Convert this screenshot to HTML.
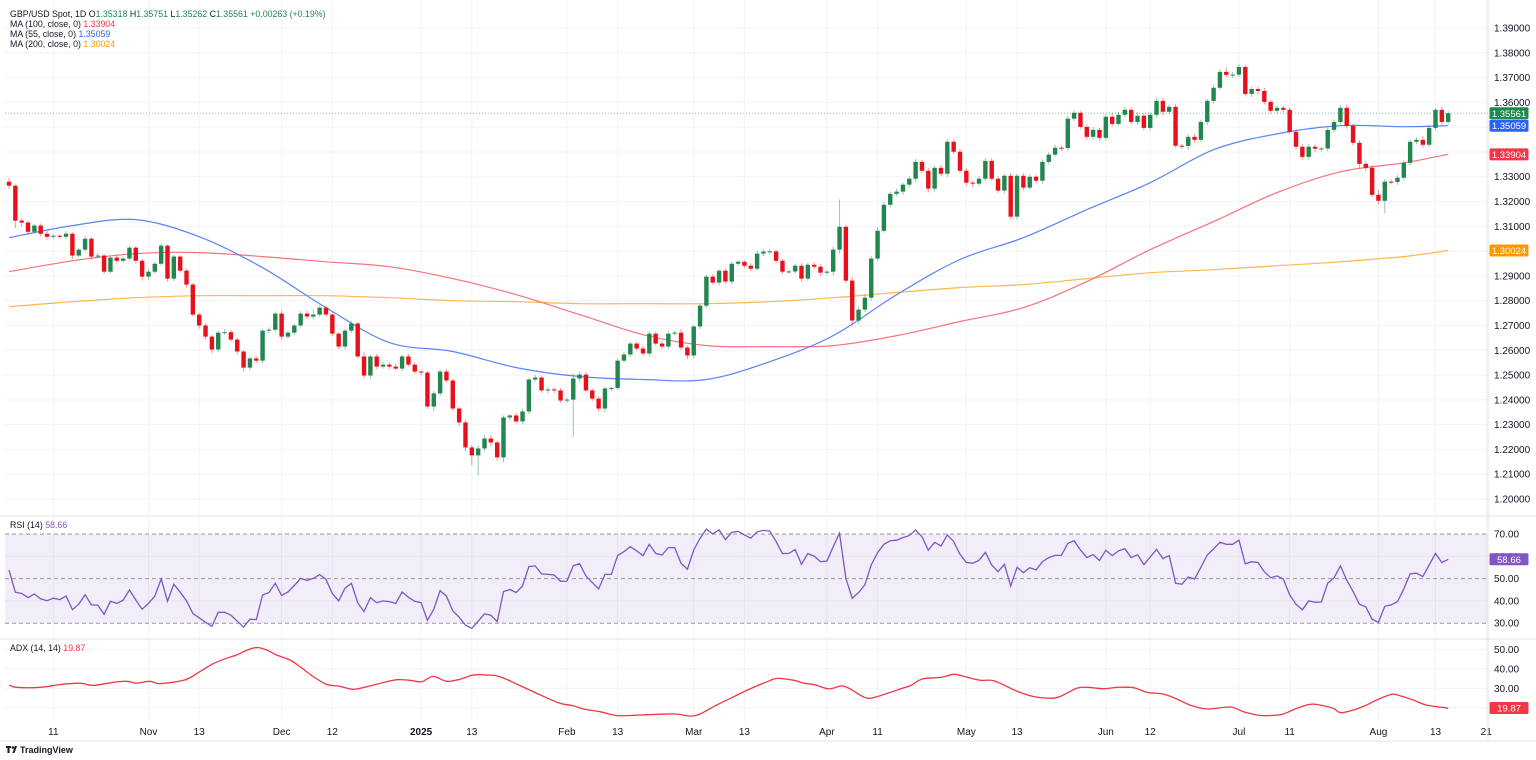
<!DOCTYPE html>
<html><head><meta charset="utf-8"><title>GBP/USD Daily</title>
<style>
html,body{margin:0;padding:0;background:#fff;}
svg{display:block;font-family:"Liberation Sans",sans-serif;}
.ax{font-size:10px;fill:#131722;}
.lg{font-size:8.8px;fill:#131722;}
</style></head>
<body>
<svg id="chart" width="1536" height="760" viewBox="0 0 1536 760" xmlns="http://www.w3.org/2000/svg">
  <rect x="0" y="0" width="1536" height="760" fill="#ffffff"/>
  <g id="grid"></g>
  <g id="rsiPane"></g>
  <g id="adxPane"></g>
  <g id="mas"></g>
  <g id="candles"></g>
  <g id="axes"></g>
  <g id="legend">
    <text class="lg" x="10" y="17">GBP/USD Spot, 1D  O<tspan fill="#22864f">1.35318</tspan>  H<tspan fill="#22864f">1.35751</tspan>  L<tspan fill="#22864f">1.35262</tspan>  C<tspan fill="#22864f">1.35561</tspan>  <tspan fill="#22864f">+0.00263 (+0.19%)</tspan></text>
    <text class="lg" x="10" y="27">MA (100, close, 0)  <tspan fill="#f23645">1.33904</tspan></text>
    <text class="lg" x="10" y="37">MA (55, close, 0)  <tspan fill="#2962ff">1.35059</tspan></text>
    <text class="lg" x="10" y="47">MA (200, close, 0)  <tspan fill="#ff9800">1.30024</tspan></text>
    <text class="lg" x="10" y="528">RSI (14)  <tspan fill="#7e57c2">58.66</tspan></text>
    <text class="lg" x="10" y="651">ADX (14, 14)  <tspan fill="#f23645">19.87</tspan></text>
  </g>
  <g>
    <path d="M6 746 h5 v2 h-1.5 v5 h-2 v-5 h-1.5 z M12.5 753 l2.5 -7 h2 l-2.5 7 z" fill="#131722"/>
    <circle cx="13" cy="747.5" r="1.3" fill="#131722"/>
    <text x="20" y="753" style="font-size:9px;font-weight:bold;fill:#131722">TradingView</text>
  </g>
</svg>
<script>
const closes = [
1.3264,1.3123,1.3115,1.3078,1.3103,1.3070,1.3058,1.3062,1.3058,1.3070,
1.2982,1.3006,1.3050,1.2978,1.2982,1.2917,1.2974,1.2961,1.2970,1.3014,
1.2961,1.2897,1.2917,1.2949,1.3022,1.2889,1.2978,1.2921,1.2865,1.2744,
1.2700,1.2655,1.2603,1.2671,1.2673,1.2643,1.2595,1.2530,1.2567,1.2558,
1.2679,1.2683,1.2748,1.2655,1.2671,1.2700,1.2748,1.2736,1.2744,1.2772,
1.2744,1.2667,1.2615,1.2679,1.2708,1.2575,1.2498,1.2575,1.2534,1.2542,
1.2534,1.2526,1.2575,1.2542,1.2514,1.2510,1.2373,1.2426,1.2514,1.2478,
1.2365,1.2309,1.2208,1.2176,1.2204,1.2244,1.2228,1.2168,1.2329,1.2337,
1.2313,1.2353,1.2482,1.2490,1.2438,1.2442,1.2438,1.2397,1.2401,1.2486,
1.2502,1.2438,1.2405,1.2365,1.2446,1.2448,1.2558,1.2583,1.2627,1.2607,
1.2587,1.2667,1.2627,1.2615,1.2667,1.2671,1.2611,1.2579,1.2696,1.2780,
1.2897,1.2873,1.2921,1.2877,1.2949,1.2957,1.2941,1.2929,1.2990,1.2998,
1.2999,1.2961,1.2917,1.2918,1.2941,1.2889,1.2945,1.2937,1.2913,1.2917,
1.3006,1.3098,1.2881,1.2720,1.2764,1.2812,1.2970,1.3082,1.3187,1.3231,
1.3240,1.3268,1.3292,1.3360,1.3324,1.3252,1.3336,1.3312,1.3441,1.3401,
1.3324,1.3276,1.3272,1.3292,1.3364,1.3292,1.3244,1.3304,1.3139,1.3304,
1.3256,1.3300,1.3284,1.3360,1.3389,1.3417,1.3416,1.3534,1.3558,1.3501,
1.3461,1.3489,1.3457,1.3542,1.3513,1.3550,1.3570,1.3521,1.3546,1.3497,
1.3550,1.3606,1.3562,1.3582,1.3425,1.3424,1.3461,1.3449,1.3521,1.3606,
1.3659,1.3723,1.3711,1.3712,1.3743,1.3634,1.3654,1.3646,1.3602,1.3566,
1.3578,1.3570,1.3481,1.3421,1.3380,1.3421,1.3413,1.3414,1.3489,1.3521,
1.3578,1.3505,1.3437,1.3352,1.3336,1.3227,1.3203,1.3280,1.3279,1.3296,
1.3356,1.3441,1.3449,1.3429,1.3497,1.3570,1.3521,1.35561];
const firstOpen = 1.3280;
const wickUpPips = [
15,5,10,8,6,8,10,6,5,12, 6,8,10,6,12,8,6,10,8,8, 6,8,10,8,8,5,8,6,8,6, 8,8,6,8,12,10,10,8,8,10,
8,10,8,12,8,8,10,12,20,8, 10,8,6,8,10,6,15,8,10,12, 10,12,6,10,8,6,6,10,8,10, 8,6,10,10,12,15,14,8,8,6,
10,12,6,12,8,10,8,10,8,20, 12,10,8,10,8,6,10,10,8,8, 12,10,8,10,10,8,15,8,6,8, 8,10,6,10,10,8,6,10,12,8,
10,6,8,10,8,10,8,10,10,6, 12,110,8,15,12,15,10,15,12,8, 12,10,8,12,8,10,8,12,10,8, 12,10,8,10,12,10,10,8,12,8,
10,12,8,10,10,12,8,12,10,8, 10,12,8,10,15,12,10,10,15,12, 10,15,12,10,12,8,10,12,10,8, 12,10,18,10,12,8,10,10,12,8,
10,10,8,10,10,12,8,8,10,10, 12,12,10,12,10,10,20,12,10,12, 10,10,10,15,12,8,12,10];
const wickDnPips = [
15,30,15,12,8,10,12,8,8,10, 15,8,8,12,8,10,8,12,8,8, 10,15,12,8,8,12,10,8,12,8, 12,10,15,10,8,8,12,15,10,8,
10,8,8,12,8,10,8,10,10,8, 8,10,10,12,10,8,12,15,10,8, 10,8,10,8,8,12,10,20,10,8, 10,15,15,40,80,12,15,12,20,10,
8,12,10,8,10,12,12,10,10,150, 10,8,10,12,15,10,8,8,10,8, 10,12,8,10,10,8,10,15,12,10, 10,8,12,8,10,8,10,10,8,10,
12,8,10,8,10,12,8,10,12,10, 15,15,10,20,15,10,12,10,8,10, 10,12,10,12,10,15,12,10,12,10, 10,12,15,10,10,8,10,12,10,12,
10,8,10,12,10,8,12,10,10,8, 12,10,12,10,10,8,10,10,12,10, 10,10,15,10,8,12,15,12,10,12, 10,8,10,12,10,10,12,15,10,8,
10,12,10,12,10,12,15,12,12,10, 10,12,10,15,12,10,15,50,10,12, 10,10,10,12,10,10,10,10];
const maIdx = [0,10,20,30,40,50,60,70,80,90,100,110,120,130,140,150,160,170,180,190,200,210,220,227];
const ma55 = [1.3054,1.3103,1.3127,1.3058,1.2933,1.2772,1.2631,1.2595,1.2530,1.2494,1.2482,1.2482,1.2554,1.2659,1.2824,1.2966,1.3054,1.3167,1.3276,1.3409,1.3473,1.3506,1.3502,1.35059];
const ma100 = [1.2917,1.2961,1.2990,1.2994,1.2978,1.2957,1.2937,1.2889,1.2824,1.2744,1.2663,1.2619,1.2615,1.2619,1.2659,1.2716,1.2772,1.2877,1.3006,1.3119,1.3236,1.3320,1.3356,1.33904];
const ma200 = [1.2776,1.2796,1.2812,1.2820,1.2820,1.2820,1.2812,1.2800,1.2796,1.2788,1.2788,1.2788,1.2796,1.2812,1.2833,1.2853,1.2865,1.2889,1.2913,1.2925,1.2941,1.2957,1.2978,1.30024];
const rsi = [
53.9,43.9,43.3,41.5,43.1,40.9,40.1,41.2,40.6,42.2, 36.1,38.5,42.8,38.2,38.1,34.0,39.8,38.9,40.3,44.9,
40.4,36.3,38.9,42.2,49.8,39.8,47.5,43.9,40.0,34.3, 32.4,30.4,28.6,34.9,34.9,33.6,30.9,28.2,31.8,31.6,
42.7,43.7,47.9,42.4,44.0,46.9,50.1,49.2,50.1,51.8, 49.7,43.3,40.0,45.7,47.9,39.2,35.2,41.5,39.2,40.0,
39.7,38.9,44.0,41.6,39.8,39.2,31.3,36.3,44.6,42.1, 35.5,32.7,29.1,27.7,30.9,34.2,33.6,30.7,44.2,45.1,
43.7,46.7,55.4,55.7,52.1,51.9,51.6,48.8,48.9,55.8, 56.7,51.2,48.2,45.4,51.9,51.9,60.3,62.1,64.3,62.4,
60.3,65.4,61.3,60.6,63.9,63.9,56.9,54.2,62.8,68.1, 72.2,70.0,71.9,67.5,70.7,71.2,69.6,68.1,71.0,71.6,
71.3,66.6,61.2,61.3,63.0,56.4,61.2,60.1,57.6,57.9, 64.3,70.3,50.1,41.2,43.7,47.2,56.1,61.6,65.4,67.0,
67.2,68.4,69.3,71.8,68.8,62.8,66.3,64.6,69.6,66.6, 60.9,57.2,56.9,58.2,61.8,56.1,53.1,56.4,46.7,55.1,
52.7,54.9,53.9,57.6,59.4,60.4,60.4,65.8,67.0,62.8, 59.4,60.7,58.1,62.7,60.3,62.4,63.4,59.4,60.7,56.3,
59.7,63.1,59.0,60.3,47.9,47.5,50.7,49.8,55.1,60.6, 63.3,66.3,65.4,65.4,67.2,56.6,57.6,57.2,53.1,50.4,
51.2,49.8,42.7,38.5,36.0,40.0,39.4,39.5,47.9,50.4, 55.7,49.4,44.2,38.5,37.3,31.8,30.4,37.6,38.2,39.7,
45.4,52.1,52.4,50.9,56.1,61.3,57.2,58.66];
const adxIdx = [0,1.2,4.9,8.0,11.2,13.3,16.5,18.6,20.1,22.2,23.8,27.8,30.1,32.2,34.3,35.9,37.5,39.1,40.6,42.2,44.3,45.9,48.0,50.1,52.2,54.3,56.4,59.0,61.2,63.2,65.1,66.9,69.0,71.1,73.2,75.3,77.4,
80.6,83.8,86.9,89.0,90.6,93.2,95.9,99.6,102.7,105.3,107.4,109.0,111.6,114.3,116.9,119.6,121.2,123.8,125.4,127.0,129.3,131.2,132.5,135.1,137.0,140.6,142.2,144.1,147.0,149.1,151.2,153.3,155.4,
158.9,161.6,164.2,165.8,168.4,170.0,172.7,174.8,177.4,179.5,182.1,184.2,186.3,188.9,192.6,194.7,197.3,199.4,201.0,203.1,205.2,206.8,208.9,210.0,212.0,214.1,215.7,218.1,219.4,221.5,223.6,227];
const adx = [31.7,30.5,30.5,31.9,32.6,31.5,33.1,33.6,32.6,33.6,32.4,34.4,38.5,42.6,45.4,47.1,49.5,50.9,49.7,47.1,44.5,41.1,36.0,32.0,31.0,29.5,30.8,32.9,34.4,34.1,33.4,36.1,33.6,34.6,36.8,36.8,36.0,
31.4,26.6,22.3,21.1,19.4,18.0,16.0,16.3,16.7,16.8,15.8,16.8,21.4,25.7,29.7,33.4,35.1,34.1,32.6,31.9,29.7,31.2,30.0,25.2,25.8,29.7,31.4,34.8,35.6,37.2,35.6,34.1,33.8,
28.6,25.8,24.9,25.8,30.0,30.5,29.8,30.5,30.3,27.9,27.0,24.5,21.4,19.4,20.4,18.0,16.1,16.1,16.8,19.7,21.8,21.4,19.7,17.5,18.8,21.4,24.0,26.9,26.2,24.0,21.4,19.87];
const priceTicks = [1.20,1.21,1.22,1.23,1.24,1.25,1.26,1.27,1.28,1.29,1.30,1.31,1.32,1.33,1.34,1.35,1.36,1.37,1.38,1.39];
const rsiTicks = [70,60,50,40,30];
const adxTicks = [50,40,30,20];
const dateLabels = ["11","Nov","13","Dec","12","2025","13","Feb","13","Mar","13","Apr","11","May","13","Jun","12","Jul","11","Aug","13","21"];
const dateIdx = [7,22,30,43,51,65,73,88,96,108,116,129,137,151,159,173,180,194,202,216,225,233];

const NS = "http://www.w3.org/2000/svg";
const PLOT_R = 1488;
function xOf(i){ return 9 + i*6.34; }
function yP(p){ return 28 + (1.39 - p)/0.01*24.79; }
function yR(v){ return 534 + (70 - v)*2.23; }
function yA(v){ return 649.3 + (50 - v)*1.95; }
function mk(tag, attrs, parent){
  const e = document.createElementNS(NS, tag);
  for (const k in attrs) e.setAttribute(k, attrs[k]);
  parent.appendChild(e); return e;
}
function smoothPath(pts){
  let d = 'M' + pts[0][0].toFixed(1) + ',' + pts[0][1].toFixed(1);
  for (let i = 0; i < pts.length - 1; i++) {
    const p0 = pts[Math.max(0, i-1)], p1 = pts[i], p2 = pts[i+1], p3 = pts[Math.min(pts.length-1, i+2)];
    const c1x = p1[0] + (p2[0]-p0[0])/6, c1y = p1[1] + (p2[1]-p0[1])/6;
    const c2x = p2[0] - (p3[0]-p1[0])/6, c2y = p2[1] - (p3[1]-p1[1])/6;
    d += ' C' + c1x.toFixed(1) + ',' + c1y.toFixed(1) + ' ' + c2x.toFixed(1) + ',' + c2y.toFixed(1) + ' ' + p2[0].toFixed(1) + ',' + p2[1].toFixed(1);
  }
  return d;
}
const grid = document.getElementById('grid');
const axes = document.getElementById('axes');
const mas = document.getElementById('mas');
const cg = document.getElementById('candles');
const rp = document.getElementById('rsiPane');
const ap = document.getElementById('adxPane');

priceTicks.forEach(p => {
  const l = mk('line', {x1:5, x2:PLOT_R, y1:yP(p), y2:yP(p), stroke:'#f0f3fa', 'stroke-width':1}, grid);
  
  
  const t = mk('text', {x:1494, y:yP(p)+3.5, class:'ax'}, axes);
  t.textContent = p.toFixed(5);
  
  
});
dateLabels.forEach((d, k) => {
  const x = xOf(dateIdx[k]);
  if (x < PLOT_R) {
    const l = mk('line', {x1:x, x2:x, y1:0, y2:722, stroke:'#f0f3fa', 'stroke-width':1}, grid);
    
    
  }
  const t = mk('text', {x:x, y:735, class:'ax', 'text-anchor':'middle'}, axes);
  if (d === '2025') t.setAttribute('font-weight', 'bold');
  t.textContent = d;
  
  
});
const band = mk('rect', {x:5, y:yR(70), width:PLOT_R-5, height:yR(30)-yR(70), fill:'#7e57c2', 'fill-opacity':0.1}, rp);


[60,40].forEach(v => {
  const l = mk('line', {x1:5, x2:PLOT_R, y1:yR(v), y2:yR(v), stroke:'#e6e2f2', 'stroke-width':1}, rp);
  
  
});
[70,50,30].forEach(v => {
  const l = mk('line', {x1:5, x2:PLOT_R, y1:yR(v), y2:yR(v), stroke:'#9598a1', 'stroke-width':1, 'stroke-dasharray':'4,3'}, rp);
  
  
});
rsiTicks.forEach(v => {
  const t = mk('text', {x:1494, y:yR(v)+3.5, class:'ax'}, axes);
  t.textContent = v.toFixed(2);
  
  
});
const rsiLine = mk('polyline', {points: rsi.map((v,i)=>xOf(i).toFixed(1)+','+yR(v).toFixed(1)).join(' '), fill:'none', stroke:'#7e57c2', 'stroke-width':1.3}, rp);


adxTicks.forEach(v => {
  const l = mk('line', {x1:5, x2:PLOT_R, y1:yA(v), y2:yA(v), stroke:'#f0f3fa', 'stroke-width':1}, ap);
  
  
  const t = mk('text', {x:1494, y:yA(v)+3.5, class:'ax'}, axes);
  t.textContent = v.toFixed(2);
  
  
});
const adxLine = mk('path', {d: smoothPath(adx.map((v,k)=>[xOf(adxIdx[k]), yA(v)])), fill:'none', stroke:'#f23645', 'stroke-width':1.3, 'stroke-linejoin':'round'}, ap);



function maLine(vals, color, name){
  const pl = mk('path', {d: smoothPath(vals.map((v,k)=>[xOf(maIdx[k]), yP(v)])), fill:'none', stroke:color, 'stroke-width':1.2}, mas);
  
  
}
maLine(ma200, '#ffb74d', 'ma200-line');
maLine(ma100, '#f7737a', 'ma100-line');
maLine(ma55, '#5b84f5', 'ma55-line');

let prev = firstOpen;
closes.forEach((c, i) => {
  const o = prev;
  const up = c >= o;
  const col = up ? '#22864f' : '#e8101a';
  const hi = Math.max(o, c) + wickUpPips[i]*0.0001;
  const lo = Math.min(o, c) - wickDnPips[i]*0.0001;
  const x = xOf(i);
  const w = mk('line', {x1:x, x2:x, y1:yP(hi), y2:yP(lo), stroke:col, 'stroke-opacity':0.45, 'stroke-width':1}, cg);
  
  
  const yt = yP(Math.max(o,c)), yb = yP(Math.min(o,c));
  const b = mk('rect', {x:x-2.2, y:yt, width:4.4, height:Math.max(1, yb-yt), fill:col}, cg);
  
  
  prev = c;
});

const last = closes[closes.length-1];
const pl = mk('line', {x1:5, x2:PLOT_R, y1:yP(last), y2:yP(last), stroke:'#22864f', 'stroke-opacity':0.6, 'stroke-width':1, 'stroke-dasharray':'1,2'}, axes);



[[0,516,1536,516],[0,639,1536,639],[0,741,1536,741],[PLOT_R,0,PLOT_R,741]].forEach(s => {
  const l = mk('line', {x1:s[0], y1:s[1], x2:s[2], y2:s[3], stroke:'#e0e3eb', 'stroke-width':1}, axes);
  
  
});

function badge(y, txt, bg, name){
  const g = mk('g', {}, axes);
  
  
  mk('rect', {x:1489, y:y-6, width:44, height:12, fill:'#ffffff'}, g);
  mk('rect', {x:1489.5, y:y-6, width:39, height:12, rx:1.5, fill:bg}, g);
  const t = mk('text', {x:1509, y:y+3.5, 'text-anchor':'middle', style:'font-size:9.5px;fill:#fff'}, g);
  t.textContent = txt;
}
badge(yP(ma200[ma200.length-1]), '1.30024', '#ff9800', 'ma200-badge');
badge(yP(ma100[ma100.length-1]), '1.33904', '#f23645', 'ma100-badge');
badge(yP(ma55[ma55.length-1]), '1.35059', '#2962ff', 'ma55-badge');
badge(yP(last), '1.35561', '#22864f', 'price-badge');
badge(yR(rsi[rsi.length-1]), '58.66', '#7e57c2', 'rsi-badge');
badge(yA(adx[adx.length-1]), '19.87', '#f23645', 'adx-badge');
</script>
</body></html>
